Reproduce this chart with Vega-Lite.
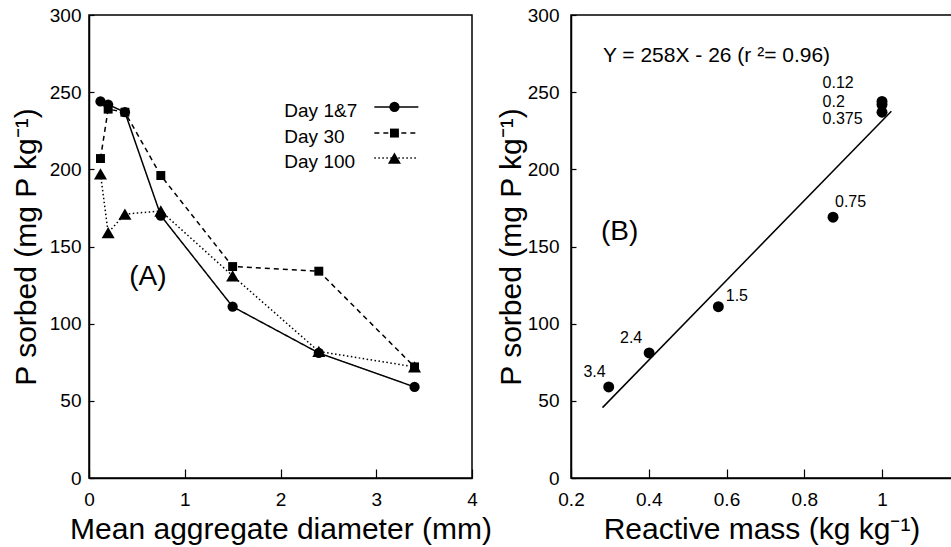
{
  "$schema": "https://vega.github.io/schema/vega-lite/v6.json",
  "padding": {"left": 10, "top": 5, "right": 0, "bottom": 0},
  "background": "white",
  "config": {
    "font": "Liberation Sans",
    "view": {"stroke": "black", "strokeWidth": 1.5},
    "axis": {
      "grid": false,
      "labelFlush": false,
      "domainColor": "black", "domainWidth": 1.5,
      "tickColor": "black", "tickWidth": 1.2,
      "labelColor": "black", "labelFont": "Liberation Sans", "labelFontSize": 19,
      "titleColor": "black", "titleFont": "Liberation Sans", "titleFontSize": 30, "titleFontWeight": "normal"
    }
  },
  "datasets": {
    "agg": [
      {"series": "Day 1&7", "d": 0.12, "p": 244},
      {"series": "Day 1&7", "d": 0.2, "p": 242},
      {"series": "Day 1&7", "d": 0.375, "p": 237},
      {"series": "Day 1&7", "d": 0.75, "p": 170},
      {"series": "Day 1&7", "d": 1.5, "p": 111},
      {"series": "Day 1&7", "d": 2.4, "p": 81},
      {"series": "Day 1&7", "d": 3.4, "p": 59},
      {"series": "Day 30", "d": 0.12, "p": 207},
      {"series": "Day 30", "d": 0.2, "p": 239},
      {"series": "Day 30", "d": 0.375, "p": 237},
      {"series": "Day 30", "d": 0.75, "p": 196},
      {"series": "Day 30", "d": 1.5, "p": 137},
      {"series": "Day 30", "d": 2.4, "p": 134},
      {"series": "Day 30", "d": 3.4, "p": 72},
      {"series": "Day 100", "d": 0.12, "p": 197},
      {"series": "Day 100", "d": 0.2, "p": 159},
      {"series": "Day 100", "d": 0.375, "p": 171},
      {"series": "Day 100", "d": 0.75, "p": 173},
      {"series": "Day 100", "d": 1.5, "p": 131},
      {"series": "Day 100", "d": 2.4, "p": 82},
      {"series": "Day 100", "d": 3.4, "p": 72}
    ],
    "leg": [
      {"series": "Day 1&7", "lx1": 2.98, "lx2": 3.44, "mx": 3.19, "ly": 240.4, "tx": 2.04, "ty": 237.5},
      {"series": "Day 30", "lx1": 2.98, "lx2": 3.44, "mx": 3.19, "ly": 223.5, "tx": 2.04, "ty": 221},
      {"series": "Day 100", "lx1": 2.98, "lx2": 3.44, "mx": 3.19, "ly": 207.3, "tx": 2.04, "ty": 205}
    ],
    "rm": [
      {"rm": 0.297, "p": 59, "lab": "3.4", "lx": 0.232, "ly": 68.6},
      {"rm": 0.401, "p": 81, "lab": "2.4", "lx": 0.326, "ly": 90.7},
      {"rm": 0.579, "p": 111, "lab": "1.5", "lx": 0.598, "ly": 117.7},
      {"rm": 0.874, "p": 169, "lab": "0.75", "lx": 0.879, "ly": 178.6},
      {"rm": 1.0, "p": 244, "lab": "0.12", "lx": 0.847, "ly": 256},
      {"rm": 1.0, "p": 242, "lab": "0.2", "lx": 0.847, "ly": 243.4},
      {"rm": 1.0, "p": 237, "lab": "0.375", "lx": 0.847, "ly": 232.8}
    ],
    "fit": [
      {"rm": 0.281, "p": 45.6},
      {"rm": 1.024, "p": 237.7}
    ]
  },
  "spacing": 99,
  "bounds": "flush",
  "hconcat": [
    {
      "width": 383,
      "height": 463,
      "layer": [
        {
          "data": {"name": "agg"},
          "mark": {"type": "line", "color": "black", "strokeWidth": 1.5},
          "encoding": {
            "x": {"field": "d", "type": "quantitative",
                  "scale": {"domain": [0, 4], "nice": false},
                  "axis": {"title": "Mean aggregate diameter (mm)", "values": [0, 1, 2, 3, 4], "format": "d",
                           "tickSize": -9, "labelPadding": 21, "titleY": 60, "titleBaseline": "alphabetic"}},
            "y": {"field": "p", "type": "quantitative",
                  "scale": {"domain": [0, 300], "nice": false},
                  "axis": {"title": "P sorbed (mg P kg⁻¹)",
                           "values": [0, 25, 50, 75, 100, 125, 150, 175, 200, 225, 250, 275, 300],
                           "labelExpr": "datum.value % 50 == 0 ? datum.label : ''",
                           "tickSize": -5, "labelPadding": 13,
                           "titleX": -63, "titleY": 231.5, "titleBaseline": "middle", "titleAlign": "center", "titleAngle": 270}},
            "detail": {"field": "series"},
            "strokeDash": {"field": "series", "type": "nominal",
                           "scale": {"domain": ["Day 1&7", "Day 30", "Day 100"], "range": [[1, 0], [5, 4], [1.5, 2.5]]},
                           "legend": null}
          }
        },
        {
          "data": {"name": "agg"},
          "mark": {"type": "point", "filled": true, "color": "black", "opacity": 1},
          "encoding": {
            "x": {"field": "d", "type": "quantitative"},
            "y": {"field": "p", "type": "quantitative"},
            "shape": {"field": "series", "type": "nominal",
                      "scale": {"domain": ["Day 1&7", "Day 30", "Day 100"], "range": ["circle", "square", "triangle-up"]},
                      "legend": null},
            "size": {"field": "series", "type": "nominal",
                     "scale": {"type": "ordinal", "domain": ["Day 1&7", "Day 30", "Day 100"], "range": [105, 80, 170]},
                     "legend": null}
          }
        },
        {
          "data": {"name": "leg"},
          "mark": {"type": "rule", "color": "black", "strokeWidth": 1.5},
          "encoding": {
            "x": {"field": "lx1", "type": "quantitative"},
            "x2": {"field": "lx2"},
            "y": {"field": "ly", "type": "quantitative"},
            "strokeDash": {"field": "series", "type": "nominal",
                           "scale": {"domain": ["Day 1&7", "Day 30", "Day 100"], "range": [[1, 0], [5, 4], [1.5, 2.5]]},
                           "legend": null}
          }
        },
        {
          "data": {"name": "leg"},
          "mark": {"type": "point", "filled": true, "color": "black", "opacity": 1},
          "encoding": {
            "x": {"field": "mx", "type": "quantitative"},
            "y": {"field": "ly", "type": "quantitative"},
            "shape": {"field": "series", "type": "nominal",
                      "scale": {"domain": ["Day 1&7", "Day 30", "Day 100"], "range": ["circle", "square", "triangle-up"]},
                      "legend": null},
            "size": {"field": "series", "type": "nominal",
                     "scale": {"type": "ordinal", "domain": ["Day 1&7", "Day 30", "Day 100"], "range": [105, 80, 170]},
                     "legend": null}
          }
        },
        {
          "data": {"name": "leg"},
          "mark": {"type": "text", "align": "left", "baseline": "middle", "fontSize": 19, "color": "black", "font": "Liberation Sans"},
          "encoding": {
            "x": {"field": "tx", "type": "quantitative"},
            "y": {"field": "ty", "type": "quantitative"},
            "text": {"field": "series"}
          }
        },
        {
          "data": {"values": [{"t": "(A)", "x": 0.42, "y": 130}]},
          "mark": {"type": "text", "align": "left", "baseline": "middle", "fontSize": 28, "color": "black", "font": "Liberation Sans"},
          "encoding": {
            "x": {"field": "x", "type": "quantitative"},
            "y": {"field": "y", "type": "quantitative"},
            "text": {"field": "t"}
          }
        }
      ]
    },
    {
      "width": 381,
      "height": 463,
      "layer": [
        {
          "data": {"name": "fit"},
          "mark": {"type": "line", "color": "black", "strokeWidth": 1.5},
          "encoding": {
            "x": {"field": "rm", "type": "quantitative",
                  "scale": {"domain": [0.2, 1.18], "nice": false, "zero": false},
                  "axis": {"title": "Reactive mass (kg kg⁻¹)", "values": [0.2, 0.4, 0.6, 0.8, 1], "format": "~g",
                           "tickSize": -9, "labelPadding": 21, "titleY": 60, "titleBaseline": "alphabetic"}},
            "y": {"field": "p", "type": "quantitative",
                  "scale": {"domain": [0, 300], "nice": false},
                  "axis": {"title": "P sorbed (mg P kg⁻¹)",
                           "values": [0, 25, 50, 75, 100, 125, 150, 175, 200, 225, 250, 275, 300],
                           "labelExpr": "datum.value % 50 == 0 ? datum.label : ''",
                           "tickSize": -5, "labelPadding": 17,
                           "titleX": -60, "titleY": 231.5, "titleBaseline": "middle", "titleAlign": "center", "titleAngle": 270}}
          }
        },
        {
          "data": {"name": "rm"},
          "mark": {"type": "circle", "color": "black", "opacity": 1, "size": 120},
          "encoding": {
            "x": {"field": "rm", "type": "quantitative"},
            "y": {"field": "p", "type": "quantitative"}
          }
        },
        {
          "data": {"name": "rm"},
          "mark": {"type": "text", "align": "left", "baseline": "middle", "fontSize": 16, "color": "black", "font": "Liberation Sans"},
          "encoding": {
            "x": {"field": "lx", "type": "quantitative"},
            "y": {"field": "ly", "type": "quantitative"},
            "text": {"field": "lab"}
          }
        },
        {
          "data": {"values": [{"t": "(B)", "x": 0.277, "y": 159.5}]},
          "mark": {"type": "text", "align": "left", "baseline": "middle", "fontSize": 28, "color": "black", "font": "Liberation Sans"},
          "encoding": {
            "x": {"field": "x", "type": "quantitative"},
            "y": {"field": "y", "type": "quantitative"},
            "text": {"field": "t"}
          }
        },
        {
          "data": {"values": [{"t": "Y = 258X - 26 (r ²= 0.96)", "x": 0.282, "y": 273.4}]},
          "mark": {"type": "text", "align": "left", "baseline": "middle", "fontSize": 21, "color": "black", "font": "Liberation Sans"},
          "encoding": {
            "x": {"field": "x", "type": "quantitative"},
            "y": {"field": "y", "type": "quantitative"},
            "text": {"field": "t"}
          }
        }
      ]
    }
  ]
}
